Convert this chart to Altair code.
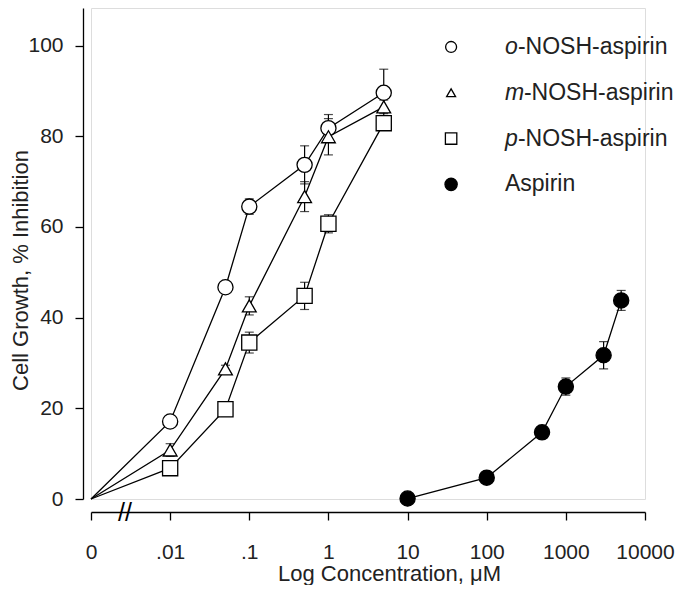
import json
import altair as alt
import pandas as pd
import numpy as np

# ---------------- data ----------------
conc = [0.01, 0.05, 0.1, 0.5, 1, 5]                      # µM, NOSH-aspirins
o_mean = [17.1, 46.7, 64.5, 73.7, 81.8, 89.6]
o_err = [0.8, 0.8, 1.7, 4.2, 3.0, 5.2]
m_mean = [10.8, 28.7, 42.6, 66.7, 79.9, 86.5]
m_err = [1.4, 0.8, 2.0, 3.3, 4.0, 1.5]
p_mean = [6.8, 19.8, 34.5, 44.8, 60.7, 82.9]
p_err = [0.8, 1.5, 2.3, 3.0, 2.0, 1.0]
asp_conc = [10, 100, 500, 1000, 3000, 5000]               # µM, aspirin
asp_mean = [0.1, 4.7, 14.7, 24.8, 31.7, 43.8]
asp_err = [0.5, 0.5, 0.8, 1.9, 3.0, 2.2]

zero_pos = -3                                             # where "0" sits on the log axis
tick_pos = [-3, -2, -1, 0, 1, 2, 3, 4]
tick_labels = ["0", ".01", ".1", "1", "10", "100", "1000", "10000"]
y_ticks = [0, 20, 40, 60, 80, 100]
y_domain = [0, 108.3]

legend_prefix = ["o", "m", "p", ""]
legend_rest = ["-NOSH-aspirin", "-NOSH-aspirin", "-NOSH-aspirin", "Aspirin"]
legend_dx = [13, 19, 13, 0]
legend_y = [99.7, 89.6, 79.5, 69.4]
legend_sym_x = 1.55
legend_txt_x = 2.23
break_x = -2.57

FONT = "Liberation Sans"
INK = "#222222"

# ---------------- tables ----------------
rows = []
for name, xs, ms, es in [("o", conc, o_mean, o_err), ("m", conc, m_mean, m_err),
                         ("p", conc, p_mean, p_err), ("a", asp_conc, asp_mean, asp_err)]:
    for c, m, e in zip(xs, ms, es):
        rows.append({"series": name, "lx": float(np.log10(c)), "y": m, "lo": m - e, "hi": m + e})
pts = pd.DataFrame(rows)

line_rows = []
for name in ["o", "m", "p"]:
    line_rows.append({"series": name, "lx": float(zero_pos), "y": 0.0})
for r in rows:
    line_rows.append({"series": r["series"], "lx": r["lx"], "y": r["y"]})
lines_df = pd.DataFrame(line_rows)

leg = pd.DataFrame({"prefix": legend_prefix, "rest": legend_rest, "y": legend_y,
                    "sx": [legend_sym_x] * 4, "tx": [legend_txt_x] * 4, "dx": legend_dx})

# ---------------- encodings ----------------
label_expr = json.dumps(tick_labels) + "[round(datum.value) + 3]"
x_scale = alt.Scale(domain=[tick_pos[0], tick_pos[-1]], nice=False, zero=False)
y_scale = alt.Scale(domain=y_domain, nice=False, zero=False)

x_axis = alt.Axis(values=tick_pos, labelExpr=label_expr, title="Log Concentration, μM",
                  offset=13, tickSize=8, labelPadding=21, grid=False,
                  domainColor="black", tickColor="black", domainWidth=1.3, tickWidth=1.3,
                  labelFont=FONT, titleFont=FONT, labelFontSize=21, titleFontSize=22,
                  titleFontWeight="normal", labelColor=INK, titleColor=INK,
                  titleX=298, titleY=68, titleBaseline="alphabetic", labelFlush=False,
                  labelOverlap=False)
y_axis = alt.Axis(values=y_ticks, title="Cell Growth, % Inhibition",
                  offset=8, tickSize=8, labelPadding=12, grid=False,
                  domainColor="black", tickColor="black", domainWidth=1.3, tickWidth=1.3,
                  labelFont=FONT, titleFont=FONT, labelFontSize=21, titleFontSize=22,
                  titleFontWeight="normal", labelColor=INK, titleColor=INK,
                  titleAngle=270, titleX=-63, titleY=262, titleBaseline="middle",
                  titleAlign="center", labelFlush=False)

X = lambda f="lx": alt.X(f"{f}:Q", scale=x_scale, axis=x_axis)
Y = lambda f="y": alt.Y(f"{f}:Q", scale=y_scale, axis=y_axis)

# ---------------- layers ----------------
err_rule = alt.Chart(pts).mark_rule(color="black", strokeWidth=1.2).encode(
    x=X(), y=Y("lo"), y2="hi")
cap_lo = alt.Chart(pts).mark_tick(color="black", orient="horizontal", size=9, thickness=1.2).encode(
    x=X(), y=Y("lo"))
cap_hi = alt.Chart(pts).mark_tick(color="black", orient="horizontal", size=9, thickness=1.2).encode(
    x=X(), y=Y("hi"))

lines = alt.Chart(lines_df).mark_line(color="black", strokeWidth=1.3).encode(
    x=X(), y=Y(), detail="series:N", order="lx:Q")

def marker(series, shape, size, filled):
    return alt.Chart(pts[pts.series == series]).mark_point(
        shape=shape, size=size, filled=True,
        fill="black" if filled else "white", stroke="black", strokeWidth=1.3, opacity=1
    ).encode(x=X(), y=Y())

m_o = marker("o", "circle", 230, False)
m_m = marker("m", "triangle-up", 190, False)
m_p = marker("p", "square", 230, False)
m_a = marker("a", "circle", 230, True)

def leg_sym(i, shape, size, filled):
    return alt.Chart(leg.iloc[[i]]).mark_point(
        shape=shape, size=size, filled=True,
        fill="black" if filled else "white", stroke="black", strokeWidth=1.3, opacity=1
    ).encode(x=X("sx"), y=Y())

ls = [leg_sym(0, "circle", 120, False), leg_sym(1, "triangle-up", 80, False),
      leg_sym(2, "square", 130, False), leg_sym(3, "circle", 150, True)]

leg_prefix = alt.Chart(leg).mark_text(font=FONT, fontSize=23, fontStyle="italic", color=INK,
                                      align="left", baseline="middle").encode(
    x=X("tx"), y=Y(), text="prefix:N")
leg_texts = []
for i in range(4):
    leg_texts.append(alt.Chart(leg.iloc[[i]]).mark_text(
        font=FONT, fontSize=23, color=INK, align="left", baseline="middle", dx=legend_dx[i]
    ).encode(x=X("tx"), y=Y(), text="rest:N"))

brk = alt.Chart(pd.DataFrame({"bx": [break_x], "t": ["//"]})).mark_text(
    font=FONT, fontSize=25, color="black", align="center", baseline="middle").encode(
    x=X("bx"), y=alt.value(505), text="t:N")

chart = alt.layer(err_rule, cap_lo, cap_hi, lines, m_o, m_m, m_p, m_a, *ls,
                  leg_prefix, *leg_texts, brk).properties(
    width=554, height=491,
    autosize=alt.AutoSizeParams(type="none"),
    padding={"left": 83, "top": 0, "right": 30, "bottom": 86},
).configure_view(stroke=None).configure(background="white")

chart.save("out.html", embed_options={"renderer": "svg", "actions": False})
